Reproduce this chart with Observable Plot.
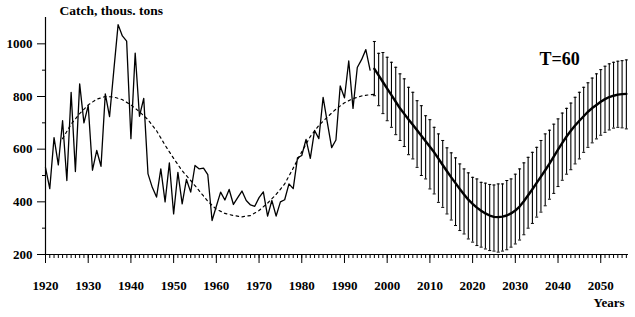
<!DOCTYPE html>
<html><head><meta charset="utf-8">
<script src="https://cdn.jsdelivr.net/npm/d3@7"></script>
<script src="https://cdn.jsdelivr.net/npm/@observablehq/plot@0.6"></script>
<style>body{margin:0;background:#fff}</style>
</head><body><div id="chart"></div>
<script>
// Observed catch, 1920-1996
const obsStart = 1920;
const obsValues = [
  530, 450, 644, 540, 708, 481, 816, 515, 848, 700,
  765, 520, 595, 535, 810, 724, 900, 1073, 1030, 1010,
  640, 965, 725, 793, 506, 455, 418, 525, 400, 548,
  354, 512, 392, 485, 437, 538, 525, 528, 503, 329,
  383, 437, 407, 447, 390, 416, 441, 405, 388, 383,
  416, 438, 346, 405, 346, 400, 408, 468, 450, 567,
  576, 637, 565, 671, 640, 797, 700, 606, 635, 840,
  795, 935, 755, 910, 940, 978, 900
];
// Fitted periodic curve (dashed)
const fitYears = [1924,1926,1928,1930,1932,1934,1936,1938,1940,1942,1944,1946,1948,1950,1952,1954,1956,1958,1960,1962,1964,1966,1968,1970,1972,1974,1976,1978,1980,1982,1984,1986,1988,1990,1992,1994,1996,1997];
const fitValues = [640,695,735,768,790,800,798,788,768,742,712,670,615,565,518,481,442,402,372,356,348,343,348,367,395,428,468,528,590,648,690,722,752,776,792,802,807,808];
// Forecast 1997-2056
const fcStart = 1997;
const fcMean = [
  905, 880, 855, 830, 805, 780, 755, 734, 713, 693,
  672, 651, 630, 609, 588, 564, 540, 516, 493, 471,
  449, 428, 408, 392, 378, 366, 356, 348, 343, 342,
  344, 348, 356, 367, 382, 402, 425, 448, 472, 496,
  520, 545, 572, 598, 624, 648, 670, 690, 708, 725,
  742, 756, 768, 780, 790, 798, 803, 807, 809, 810
];
const fcHi = [
  1009, 964, 967, 949, 930, 911, 886, 867, 835, 816,
  784, 765, 727, 712, 683, 658, 633, 605, 586, 567,
  544, 525, 510, 493, 487, 474, 471, 466, 464, 468,
  468, 481, 487, 505, 525, 548, 569, 588, 607, 633,
  658, 672, 695, 715, 737, 755, 775, 797, 816, 835,
  852, 870, 886, 902, 915, 924, 930, 934, 936, 939
];
const fcLo = [
  803, 765, 735, 708, 683, 655, 633, 610, 579, 563,
  531, 500, 487, 449, 430, 398, 379, 354, 331, 310,
  291, 278, 259, 247, 234, 228, 221, 215, 213, 209,
  213, 218, 228, 240, 255, 275, 300, 318, 342, 361,
  385, 410, 432, 458, 482, 505, 522, 544, 563, 588,
  607, 624, 639, 653, 664, 673, 680, 683, 681, 677
];
const xMajor = [1920,1930,1940,1950,1960,1970,1980,1990,2000,2010,2020,2030,2040,2050];
const xMinor = d3.range(1920, 2057);
const yMajor = [200,400,600,800,1000];
const yMinor = [300,500,700,900];

const obs = obsValues.map((v,i) => ({year: obsStart + i, value: v}));
const fit = fitYears.map((y,i) => ({year: y, value: fitValues[i]}));
const fc = fcMean.map((m,i) => ({year: fcStart + i, mean: m, lo: fcLo[i], hi: fcHi[i]}));
const cap = 0.35;

const font = "'Liberation Serif', 'Times New Roman', serif";
const chart = Plot.plot({
  width: 635, height: 317,
  marginLeft: 45, marginRight: 7, marginTop: 17, marginBottom: 63,
  style: {fontFamily: font, fontSize: "13px", fontWeight: "bold", background: "#fff", color: "#000"},
  x: {domain: [1920, 2056.5]},
  y: {domain: [200, 1100]},
  marks: [
    Plot.ruleY([200], {stroke: "#000", strokeWidth: 1.2}),
    Plot.ruleX([1920], {stroke: "#000", strokeWidth: 1.2}),
    Plot.axisX({ticks: xMinor, tickSize: 4, tickFormat: () => "", label: null, anchor: "bottom"}),
    Plot.axisX({ticks: xMajor, tickSize: 9, tickPadding: 17, tickFormat: d => String(d), label: null, anchor: "bottom", fontSize: 13, fontWeight: "bold"}),
    Plot.axisY({ticks: yMinor, tickSize: 3, tickFormat: () => "", label: null, anchor: "left"}),
    Plot.axisY({ticks: yMajor, tickSize: 8, tickPadding: 5, tickFormat: d => String(d), label: null, anchor: "left", fontSize: 13, fontWeight: "bold"}),
    Plot.line(fit, {x: "year", y: "value", stroke: "#000", strokeWidth: 1.2, strokeDasharray: "2.5,3.5"}),
    Plot.line(obs, {x: "year", y: "value", stroke: "#000", strokeWidth: 1.3}),
    Plot.ruleX(fc, {x: "year", y1: "lo", y2: "hi", stroke: "#000", strokeWidth: 1.1}),
    Plot.link(fc, {x1: d => d.year - cap, x2: d => d.year + cap, y1: "hi", y2: "hi", stroke: "#000", strokeWidth: 1}),
    Plot.link(fc, {x1: d => d.year - cap, x2: d => d.year + cap, y1: "lo", y2: "lo", stroke: "#000", strokeWidth: 1}),
    Plot.line(fc, {x: "year", y: "mean", stroke: "#000", strokeWidth: 2.4}),
    Plot.text(["Catch, thous. tons"], {text: d => d, frameAnchor: "top-left", dx: 14, dy: -3, lineAnchor: "bottom", textAnchor: "start", fontSize: 13.5, fontWeight: "bold"}),
    Plot.text(["T=60"], {text: d => d, frameAnchor: "top-left", dx: 494, dy: 47, lineAnchor: "bottom", textAnchor: "start", fontSize: 18, fontWeight: "bold"}),
    Plot.text(["Years"], {text: d => d, frameAnchor: "bottom-right", dx: -4, dy: 52, lineAnchor: "bottom", textAnchor: "end", fontSize: 13, fontWeight: "bold"})
  ]
});
document.getElementById("chart").appendChild(chart);
</script>
</body></html>
